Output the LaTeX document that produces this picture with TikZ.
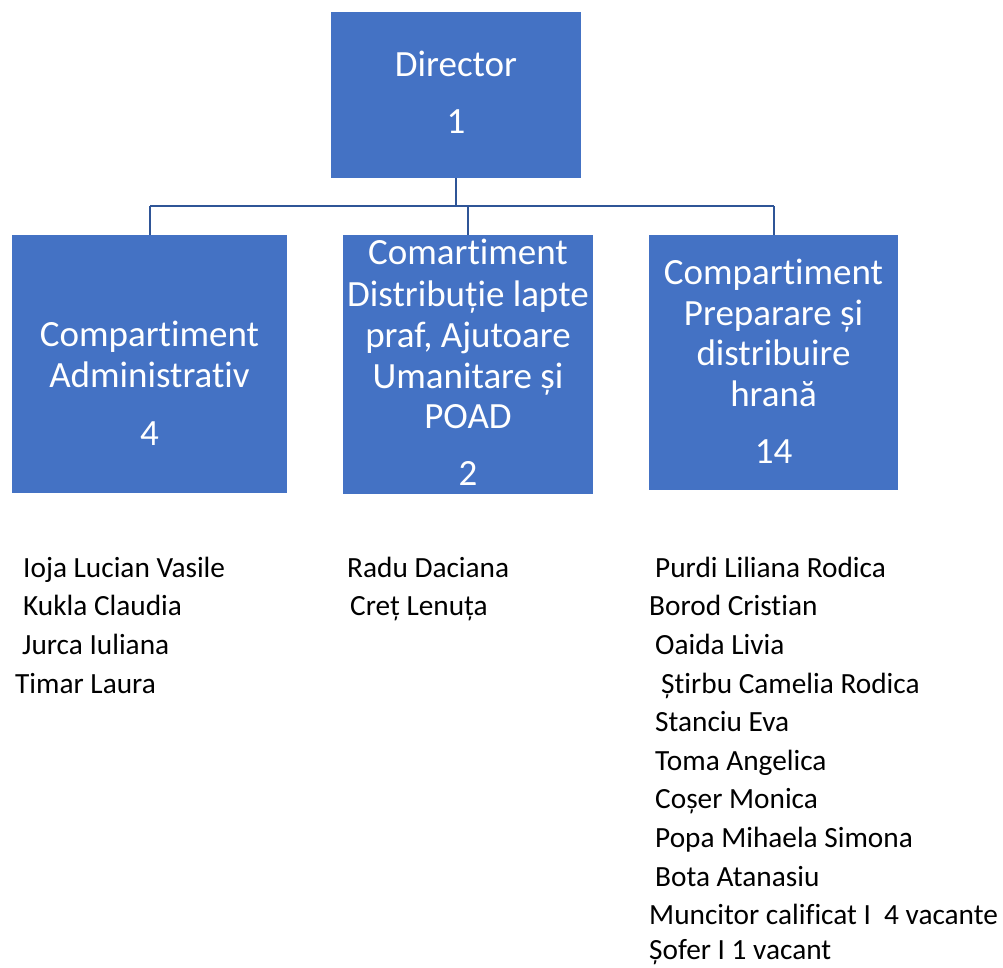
\documentclass[tikz,border=0pt]{standalone}
\usepackage{fontspec}
\setmainfont{Carlito}[Ligatures={NoCommon}]
\definecolor{boxblue}{HTML}{4472C4}
\definecolor{lineblue}{HTML}{2F5597}
\begin{document}
\begin{tikzpicture}[x=1pt,y=-1pt,
  unitbox/.style={fill=boxblue,draw=none,inner sep=0pt,anchor=north west},
  boxtxt/.style={text=white,font=\fontsize{37}{41}\selectfont,anchor=base,inner sep=0pt},
  nametxt/.style={text=black,font=\fontsize{29.3}{35}\selectfont,anchor=base west,inner sep=0pt},
  link/.style={draw=lineblue,line width=2pt}]
\useasboundingbox (0,0) rectangle (1003,968);
% boxes
\node[unitbox,minimum width=250pt,minimum height=166pt] (dir) at (331,12) {};
\node[unitbox,minimum width=275pt,minimum height=258pt] (adm) at (12,235) {};
\node[unitbox,minimum width=250pt,minimum height=259pt] (dis) at (343,235) {};
\node[unitbox,minimum width=249pt,minimum height=255pt] (pre) at (649,235) {};
% connectors
\coordinate (busL) at (150,206);
\coordinate (busR) at (773.5,206);
\draw[link] (busL) -- (busR);
\draw[link] (dir.south) -- (dir.south |- busL);
\draw[link] (adm.north) -- (adm.north |- busL);
\draw[link] (dis.north) -- (dis.north |- busL);
\draw[link] (pre.north) -- (pre.north |- busL);
% box texts
\node[boxtxt] (t1) at (456,77) {Director};
\node[boxtxt] (t2) at (456,134) {1};
\node[boxtxt] (a1) at (149.5,346) {Compartiment};
\node[boxtxt] (a2) at (149.5,387) {Administrativ};
\node[boxtxt] (a3) at (149.5,445) {4};
\node[boxtxt] (d1) at (468,265) {Comartiment};
\node[boxtxt] (d2) at (468,306) {Distribuție lapte};
\node[boxtxt] (d3) at (468,347) {praf, Ajutoare};
\node[boxtxt] (d4) at (468,388) {Umanitare și};
\node[boxtxt] (d5) at (468,428) {POAD};
\node[boxtxt] (d6) at (468,485) {2};
\node[boxtxt] (p1) at (773.5,284) {Compartiment};
\node[boxtxt] (p2) at (773.5,325) {Preparare și};
\node[boxtxt] (p3) at (773.5,365) {distribuire};
\node[boxtxt] (p4) at (773.5,406) {hrană};
\node[boxtxt] (p5) at (773.5,463) {14};
% names
\node[nametxt] (n1) at (23,577) {Ioja Lucian Vasile};
\node[nametxt] (n2) at (23,615) {Kukla Claudia};
\node[nametxt] (n3) at (22,654) {Jurca Iuliana};
\node[nametxt] (n4) at (15,693) {Timar Laura};
\node[nametxt] (m1) at (347,577) {Radu Daciana};
\node[nametxt] (m2) at (350,615) {Creț Lenuța};
\node[nametxt] (r1) at (655,577) {Purdi Liliana Rodica};
\node[nametxt] (r2) at (649,615) {Borod Cristian};
\node[nametxt] (r3) at (655,654) {Oaida Livia};
\node[nametxt] (r4) at (661,693) {Știrbu Camelia Rodica};
\node[nametxt] (r5) at (655,731) {Stanciu Eva};
\node[nametxt] (r6) at (655,770) {Toma Angelica};
\node[nametxt] (r7) at (655,808) {Coșer Monica};
\node[nametxt] (r8) at (655,847) {Popa Mihaela Simona};
\node[nametxt] (r9) at (655,886) {Bota Atanasiu};
\node[nametxt] (r10) at (649,924) {Muncitor calificat I\ \ 4 vacante};
\node[nametxt] (r11) at (649,959) {Șofer I 1 vacant};
\end{tikzpicture}
\end{document}
